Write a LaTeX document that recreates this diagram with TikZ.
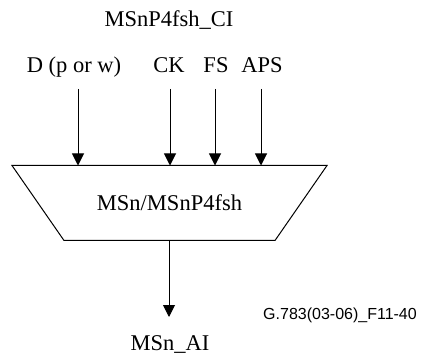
\documentclass[tikz,border=0pt]{standalone}
\usepackage{fontspec}
\setmainfont{Liberation Serif}
\newfontfamily\labelsans{Liberation Sans}
\usetikzlibrary{arrows.meta, positioning}
\tikzset{
    sigtext/.style={
        font=\fontsize{22.5}{27}\selectfont,
        inner sep=0pt, anchor=base
    },
    fnedge/.style={line width=1pt, line join=miter},
    sigarrow/.style={-{Triangle[length=12pt, width=12pt]}, line width=1pt},
}
\begin{document}
\begin{tikzpicture}[x=1pt, y=1pt]
    \useasboundingbox (0,0) rectangle (427,358);

    \node[sigtext] (ci) at (169,331) {MSnP4fsh\_CI};

    % inputs
    \node[sigtext] (lblD) at (74,285) {D (p or w)};
    \node[sigtext] (lblCK) at (169,285) {CK};
    \node[sigtext] (lblFS) at (216,285) {FS};
    \node[sigtext] (lblAPS) at (262,285) {APS};

    \coordinate (inD) at (78,269);
    \coordinate (inCK) at (170,269);
    \coordinate (inFS) at (215,269);
    \coordinate (inAPS) at (261,269);

    % function block
    \coordinate (tl) at (12,192.5);
    \coordinate (tr) at (327,192.5);
    \coordinate (br) at (275,117.5);
    \coordinate (bl) at (64,117.5);
    \draw[fnedge] (tl) -- (tr) -- (br) -- (bl) -- cycle;
    \node[sigtext, anchor=center] (fn) at (169.5,155) {MSn/MSnP4fsh};

    \draw[sigarrow] (inD) -- (inD |- tl);
    \draw[sigarrow] (inCK) -- (inCK |- tl);
    \draw[sigarrow] (inFS) -- (inFS |- tl);
    \draw[sigarrow] (inAPS) -- (inAPS |- tl);

    % output
    \node[sigtext] (ai) at (170,8) {MSn\_AI};
    \coordinate (outAI) at (169,41);
    \draw[sigarrow] (bl -| outAI) -- (outAI);

    \node[font=\labelsans\fontsize{16}{19}\selectfont, inner sep=0pt, anchor=base]
          (fig) at (340,39) {G.783(03-06)\_F11-40};
\end{tikzpicture}
\end{document}
